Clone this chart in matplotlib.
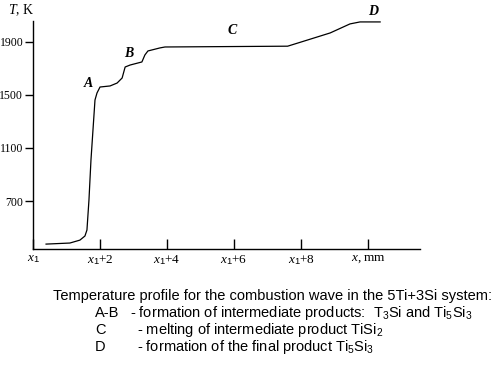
import matplotlib
matplotlib.use("Agg")
import matplotlib.pyplot as plt

plt.rcParams['mathtext.fontset'] = 'custom'
plt.rcParams['mathtext.it'] = 'Liberation Serif:italic'
plt.rcParams['mathtext.rm'] = 'Liberation Sans'
plt.rcParams['mathtext.bf'] = 'Liberation Serif:bold'

# Temperature profile data (x in mm relative to x1, T in K)
x_mm = [0.39, 1.1, 1.4, 1.55, 1.61, 1.67, 1.73, 1.79, 1.85, 1.91, 2.0, 2.3, 2.51,
        2.66, 2.75, 2.9, 3.25, 3.34, 3.43, 3.79, 3.94, 7.6, 7.97, 8.87, 9.46, 9.76, 10.36]
T_K = [375, 383, 405, 436, 481, 707, 1009, 1236, 1462, 1515, 1560, 1568, 1590,
       1628, 1711, 1726, 1749, 1802, 1832, 1855, 1862, 1868, 1897, 1968, 2036, 2051, 2051]

x_ticks = [0, 2, 4, 6, 8, 10]
x_labels = [r"$x_1$", r"$x_1$+2", r"$x_1$+4", r"$x_1$+6", r"$x_1$+8", r"$x$, mm"]
y_ticks = [700, 1100, 1500, 1900]
y_labels = ["700", "1100", "1500", "1900"]

point_labels = ["A", "B", "C", "D"]
point_x = [1.65, 2.85, 5.95, 10.15]
point_T = [1590, 1810, 1985, 2130]

caption_title = "Temperature profile for the combustion wave in the 5Ti+3Si system:"
caption_keys = ["A-B", "C", "D"]
caption_desc = ["- formation of intermediate products:  T$_3$Si and Ti$_5$Si$_3$",
                "- melting of intermediate product TiSi$_2$",
                "- formation of the final product Ti$_5$Si$_3$"]

fig = plt.figure(figsize=(5.02, 3.66), dpi=100)
ax = fig.add_axes([33/502, (366-249)/366, (420-33)/502, (249-21)/366])
ax.plot(x_mm, T_K, color='black', lw=0.9)
ax.set_xlim(0, 11.55)
ax.set_ylim(338, 2058)
for s in ['top', 'right']:
    ax.spines[s].set_visible(False)
for s in ['left', 'bottom']:
    ax.spines[s].set_linewidth(1.0)

ax.set_xticks(x_ticks)
ax.set_xticklabels(x_labels, fontfamily='Liberation Serif', fontsize=9.5)
ax.set_yticks(y_ticks)
ax.set_yticklabels(y_labels, fontfamily='Liberation Serif', fontsize=8.5)
ax.tick_params(axis='x', direction='in', length=7, width=1, pad=3)
ax.tick_params(axis='y', direction='out', length=6, width=1, pad=1)

for lab, px, pt in zip(point_labels, point_x, point_T):
    ax.text(px, pt, lab, fontfamily='Liberation Serif', fontstyle='italic',
            fontweight='bold', fontsize=10, ha='center', va='center')

fig.text(8/502, 1 - 10/366, r"$T$, K", fontfamily='Liberation Serif', fontsize=10,
         ha='left', va='center')

cap_fs = 10.5
fig.text(53/502, 1 - 296/366, caption_title, fontfamily='Liberation Sans',
         fontsize=cap_fs, ha='left', va='center')
for i, (k, d) in enumerate(zip(caption_keys, caption_desc)):
    yy = 1 - (313 + 17*i)/366
    fig.text(95/502, yy, k, fontfamily='Liberation Sans', fontsize=cap_fs, ha='left', va='center')
    fig.text((130 if i == 0 else 137)/502, yy, d, fontfamily='Liberation Sans',
             fontsize=cap_fs, ha='left', va='center')

fig.savefig("out.png", dpi=100)
